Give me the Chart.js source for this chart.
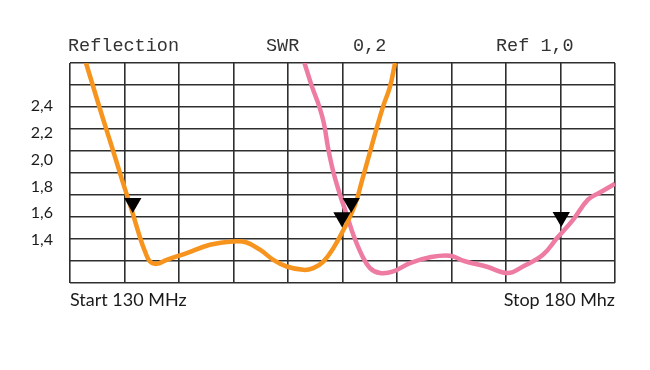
<!DOCTYPE html>
<html>
<head>
<meta charset="utf-8">
<script src="https://cdn.jsdelivr.net/npm/chart.js@4"></script>
<style>
  body { margin: 0; background: #fff; }
  canvas { display: block; }
</style>
</head>
<body>
<canvas id="chart" width="650" height="370"></canvas>
<script>
"use strict"
// frequency in MHz, SWR
const freqOrange = [131.47, 132.29, 133.12, 133.94, 134.77, 135.6, 136.42, 136.88, 137.34, 137.95, 138.87, 140.71, 142.84, 144.98, 146.21, 147.43, 148.65, 149.88, 151.4, 152.32, 153.24, 154.16, 155.14, 156.15, 156.79, 157.43, 158.07, 158.72, 159.36, 159.82];
const swrOrange = [2.72, 2.50, 2.28, 2.07, 1.85, 1.64, 1.42, 1.315, 1.24, 1.223, 1.253, 1.303, 1.365, 1.39, 1.382, 1.328, 1.253, 1.203, 1.178, 1.191, 1.24, 1.34, 1.484, 1.663, 1.843, 2.029, 2.216, 2.395, 2.544, 2.72];

const freqPink = [151.51, 152.2, 152.84, 153.3, 153.67, 154.13, 154.77, 155.39, 155.99, 156.76, 157.52, 158.44, 159.66, 161.19, 163.03, 164.86, 166.24, 168.26, 170.18, 171.56, 173.39, 174.68, 176.15, 177.52, 178.62, 180.0];
const swrPink = [2.72, 2.544, 2.402, 2.268, 2.089, 1.917, 1.738, 1.589, 1.44, 1.291, 1.191, 1.154, 1.166, 1.228, 1.272, 1.283, 1.242, 1.201, 1.154, 1.203, 1.29, 1.415, 1.551, 1.701, 1.755, 1.82];

// marker triangles
const markerFreq = [135.76, 155.8, 154.95, 175.07];
const markerSwr = [1.676, 1.676, 1.57, 1.572];

const yTickValues = [1.4, 1.6, 1.8, 2.0, 2.2, 2.4];
const xTickValues = [130, 180];
const xTickLabels = ["Start 130 MHz", "Stop 180 Mhz"];
const headerTexts = ["Reflection", "SWR", "0,2", "Ref 1,0"];
const headerOffsets = [-2, 196, 283, 426];

const gridColor = "#2e2e2e";
const textColor = "#1a1a1a";

const toPoints = (xs, ys) => xs.map((x, i) => ({ x: x, y: ys[i] }));

const headerPlugin = {
    id: "header",
    afterDraw(chart) {
        const ctx = chart.ctx;
        const left = chart.chartArea.left;
        ctx.save();
        ctx.font = "18.5px 'Liberation Mono', monospace";
        ctx.fillStyle = "#333";
        ctx.textBaseline = "alphabetic";
        for (let i = 0; i < headerTexts.length; i++) {
            ctx.fillText(headerTexts[i], left + headerOffsets[i], 51);
        }
        ctx.restore();
    }
};

new Chart(document.getElementById("chart"), {
    type: "scatter",
    plugins: [headerPlugin],
    data: {
        datasets: [
            {
                data: toPoints(markerFreq, markerSwr),
                pointStyle: "triangle",
                rotation: 180,
                pointRadius: 10,
                backgroundColor: "#000",
                borderWidth: 0,
                showLine: false,
            },
            {
                data: toPoints(freqOrange, swrOrange),
                showLine: true,
                borderColor: "#f7941d",
                borderWidth: 4.5,
                pointRadius: 0,
                tension: 0.4,
            },
            {
                data: toPoints(freqPink, swrPink),
                showLine: true,
                borderColor: "#ee7ba1",
                borderWidth: 4.5,
                pointRadius: 0,
                tension: 0.4,
            },
        ],
    },
    options: {
        responsive: false,
        animation: false,
        layout: { padding: { top: 63, right: 35, left: 0, bottom: 0 } },
        plugins: {
            legend: { display: false },
            tooltip: { enabled: false },
        },
        scales: {
            x: {
                type: "linear",
                position: "bottom",
                min: 130,
                max: 180,
                grid: { display: false, drawTicks: false },
                border: { display: false },
                afterBuildTicks: (s) => { s.ticks = xTickValues.map((v) => ({ value: v })); },
                ticks: {
                    align: "inner",
                    autoSkip: false,
                    maxRotation: 0,
                    padding: 6,
                    color: textColor,
                    font: { family: "Lato", size: 18 },
                    callback: (v, i) => xTickLabels[i],
                },
                afterFit: (s) => { s.height = 87; },
            },
            xg: {
                type: "linear",
                position: "top",
                min: 130,
                max: 180,
                ticks: { display: false, stepSize: 5 },
                grid: { color: gridColor, lineWidth: 1.6, drawTicks: false },
                border: { display: false },
                afterFit: (s) => { s.height = 0; },
            },
            y: {
                type: "linear",
                position: "left",
                min: 1.08,
                max: 2.72,
                grid: { display: false, drawTicks: false },
                border: { display: false },
                afterBuildTicks: (s) => { s.ticks = yTickValues.map((v) => ({ value: v })); },
                ticks: {
                    padding: 17,
                    color: textColor,
                    font: { family: "Lato", size: 16 },
                    callback: (v) => v.toFixed(1).replace(".", ","),
                },
                afterFit: (s) => { s.width = 70; },
            },
            yg: {
                type: "linear",
                position: "right",
                min: 0,
                max: 10,
                ticks: { display: false, stepSize: 1 },
                grid: { color: gridColor, lineWidth: 1.6, drawTicks: false },
                border: { display: false },
                afterFit: (s) => { s.width = 0; },
            },
        },
    },
});
</script>
</body>
</html>
